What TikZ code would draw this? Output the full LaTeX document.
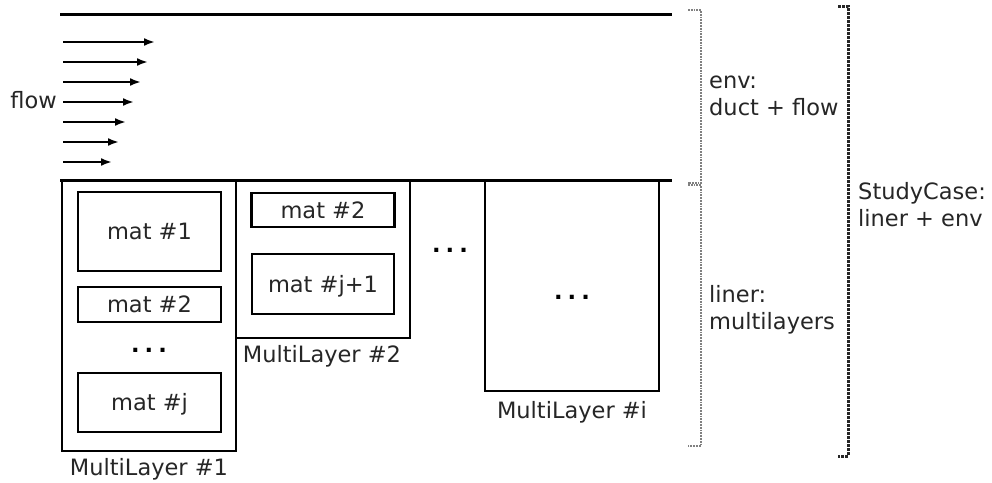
\documentclass[tikz,border=0pt]{standalone}
\usepackage{fontspec}
\setmainfont{DejaVu Sans}
\usetikzlibrary{arrows.meta}
\begin{document}
\begin{tikzpicture}[x=1pt,y=-1pt,
  txt/.style={font=\fontsize{22.5}{27}\selectfont, inner sep=0pt, text=black!85},
  dotsep/.style={font=\fontsize{22.5}{27}\bfseries, inner sep=0pt, text=black},
  layerbox/.style={draw, line width=2.8pt, inner sep=0pt},
  matbox/.style={draw, line width=2.8pt, inner sep=0pt, font=\fontsize{22.5}{27}\selectfont, text=black!85, text height=16pt, text depth=0pt},
  wall/.style={line width=3pt},
  flowarrow/.style={line width=2.8pt, -{Latex[length=11pt,width=8pt]}},
  envbrace/.style={draw=black!50, line width=1.8pt, densely dotted},
  casebrace/.style={draw=black!85, line width=3pt, densely dotted}]
\useasboundingbox (0,0) rectangle (992,482);

% duct walls
\coordinate (wtl) at (60,14);
\coordinate (wtr) at (672,14);
\coordinate (wbl) at (60,180);
\coordinate (wbr) at (672,180);
\draw[wall] (wtl) -- (wtr);
\draw[wall] (wbl) -- (wbr);

% velocity profile of the flow
\foreach \i/\y/\xe in {1/42/155, 2/62/148, 3/82/141, 4/102/134, 5/122/126, 6/142/119, 7/162/112}{
  \coordinate (fs\i) at (63,\y);
  \coordinate (fe\i) at (\xe,\y);
  \draw[flowarrow] (fs\i) -- (fe\i);
}
\node[txt, anchor=base east] (flow) at (57,108) {flow};

% MultiLayer #1
\node[layerbox, minimum width=174pt, minimum height=271pt] (ml1) at (149,315.5) {};
\node[matbox, minimum width=143pt, minimum height=79pt] (m11) at (149.5,231.5) {mat \#1};
\node[matbox, minimum width=143pt, minimum height=35pt] (m12) at (149.5,304.5) {mat \#2};
\node[dotsep] (d1) at (149,350) {.\hspace{5pt}.\hspace{5pt}.};
\node[matbox, minimum width=143pt, minimum height=59pt] (m1j) at (149.5,402.5) {mat \#j};
\node[txt, anchor=base] (l1) at (149,475) {MultiLayer \#1};

% MultiLayer #2
\node[layerbox, minimum width=174pt, minimum height=158pt] (ml2) at (323,259) {};
\node[matbox, minimum width=143pt, minimum height=34pt] (m21) at (323,210) {mat \#2};
\node[matbox, minimum width=142pt, minimum height=60pt] (m22) at (323,284) {mat \#j+1};
\node[txt, anchor=base] (l2) at (322,362) {MultiLayer \#2};

% further multilayers
\node[dotsep] (d2) at (450,250) {.\hspace{5pt}.\hspace{5pt}.};

% MultiLayer #i
\node[layerbox, minimum width=174pt, minimum height=211pt] (mli) at (572,285.5) {};
\node[dotsep] (di) at (572,297) {.\hspace{5pt}.\hspace{5pt}.};
\node[txt, anchor=base] (li) at (572,418) {MultiLayer \#i};

% braces on the right
\coordinate (e1) at (688,10);
\coordinate (e2) at (701,10);
\coordinate (e3) at (701,183);
\coordinate (e4) at (688,183);
\draw[envbrace] (e1) -- (e2) -- (e3) -- (e4);
\coordinate (r1) at (688,185);
\coordinate (r2) at (701,185);
\coordinate (r3) at (701,446);
\coordinate (r4) at (688,446);
\draw[envbrace] (r1) -- (r2) -- (r3) -- (r4);
\coordinate (c1) at (838,6);
\coordinate (c2) at (848,6);
\coordinate (c3) at (848,456);
\coordinate (c4) at (838,456);
\draw[casebrace] (c1) -- (c2) -- (c3) -- (c4);

\node[txt, anchor=west, align=left] (env) at (709,96) {env:\\duct + flow};
\node[txt, anchor=west, align=left] (liner) at (709,310) {liner:\\multilayers};
\node[txt, anchor=west, align=left] (case) at (858,205) {StudyCase:\\liner + env};
\end{tikzpicture}
\end{document}
